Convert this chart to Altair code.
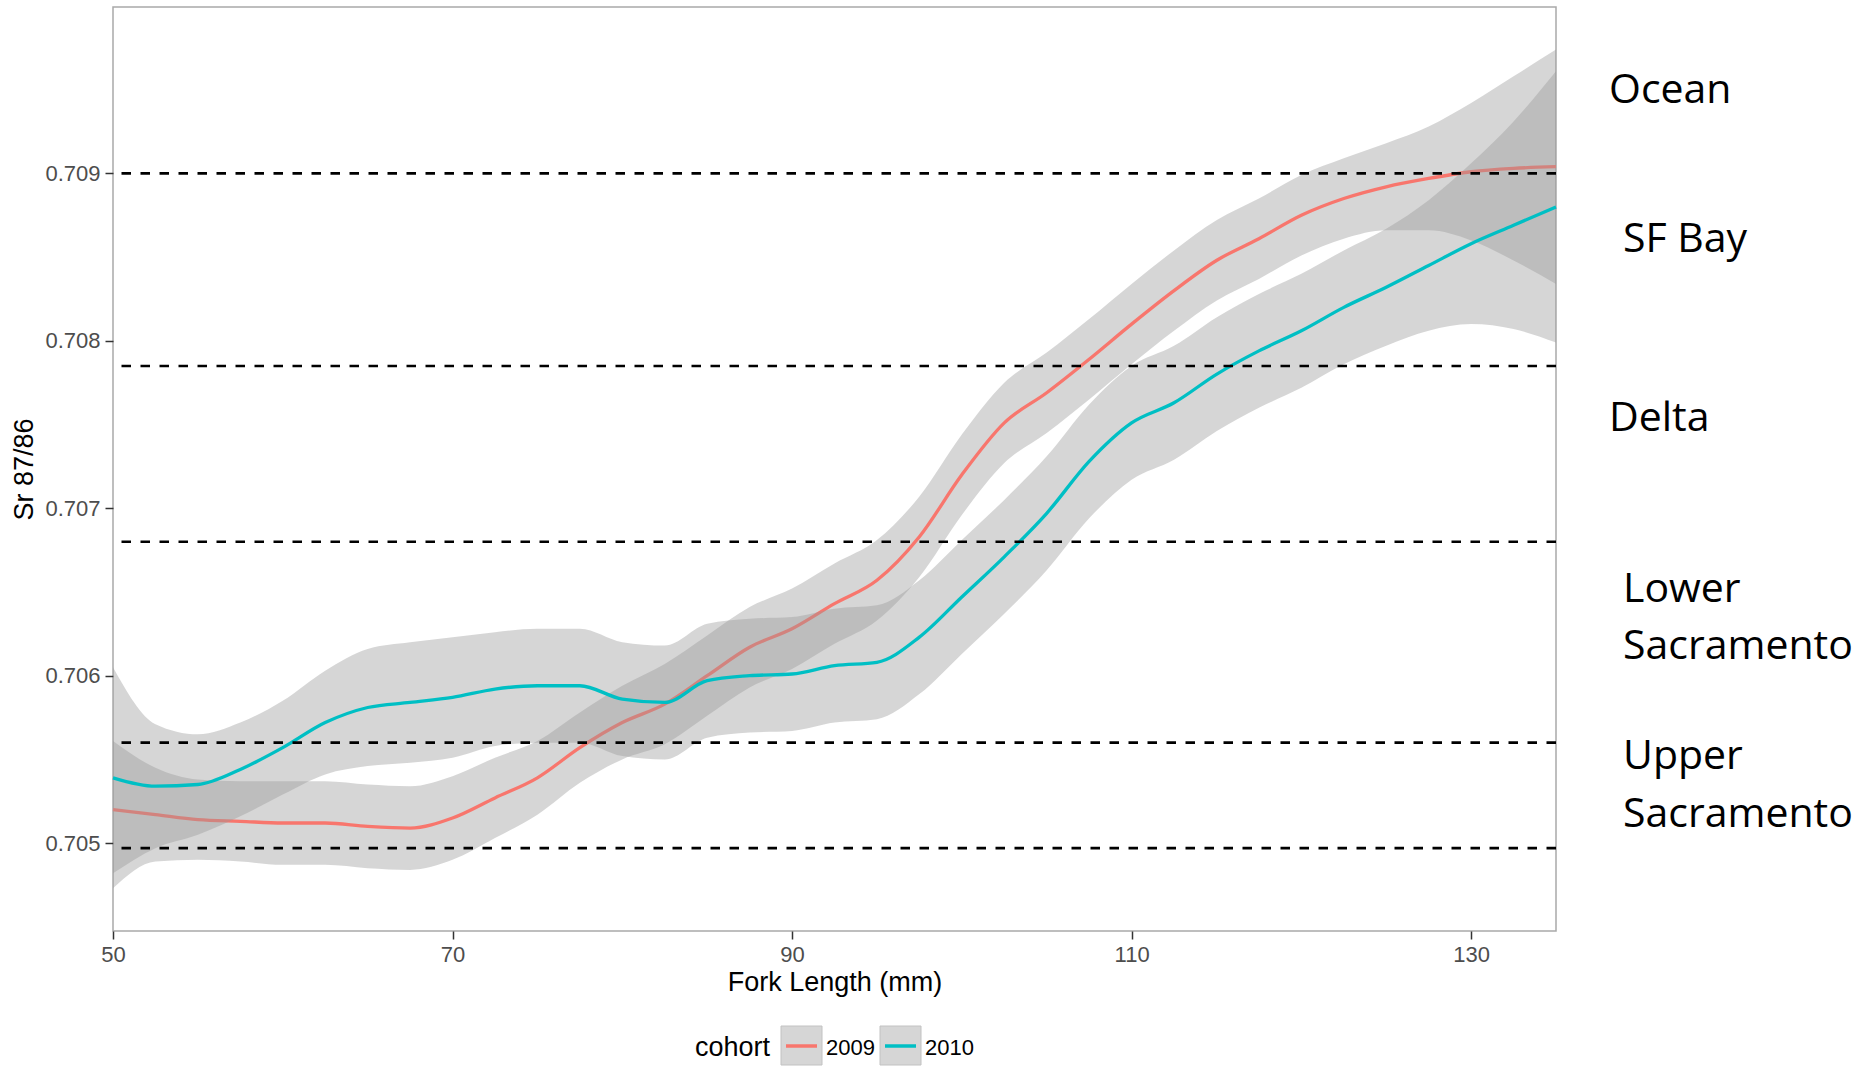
import altair as alt
import pandas as pd

# Smoothed Sr 87/86 against fork length, with confidence bands, per cohort
fork_length = [50, 52.5, 55, 57.5, 60, 62.5, 65, 67.5, 70, 72.5, 75, 77.5, 80, 82.5,
               85, 87.5, 90, 92.5, 95, 97.5, 100, 102.5, 105, 107.5, 110, 112.5, 115,
               117.5, 120, 122.5, 125, 127.5, 130, 132.5, 135]

cohorts = ["2009", "2010"]
cohort_colors = ["#F8766D", "#00BFC4"]

sr_2009 = [0.70520, 0.70517, 0.70514, 0.70513, 0.70512, 0.70512, 0.70510, 0.70509,
           0.70515, 0.70527, 0.70539, 0.70557, 0.70572, 0.70583, 0.70600, 0.70617,
           0.70628, 0.70643, 0.70657, 0.70683, 0.70720, 0.70751, 0.70769, 0.70789,
           0.70810, 0.70830, 0.70848, 0.70861, 0.70875, 0.70885, 0.70892, 0.70897,
           0.70901, 0.70903, 0.70904]
lo_2009 = [0.70473, 0.70489, 0.70490, 0.70489, 0.70487, 0.70487, 0.70485, 0.70484,
           0.70490, 0.70503, 0.70517, 0.70536, 0.70550, 0.70559, 0.70576, 0.70593,
           0.70604, 0.70619, 0.70633, 0.70659, 0.70696, 0.70727, 0.70745, 0.70765,
           0.70786, 0.70806, 0.70824, 0.70837, 0.70851, 0.70861, 0.70866, 0.70866,
           0.70860, 0.70848, 0.70834]
hi_2009 = [0.70561, 0.70545, 0.70538, 0.70537, 0.70537, 0.70537, 0.70535, 0.70534,
           0.70540, 0.70551, 0.70561, 0.70578, 0.70594, 0.70607, 0.70624, 0.70641,
           0.70652, 0.70667, 0.70681, 0.70707, 0.70744, 0.70775, 0.70793, 0.70813,
           0.70834, 0.70854, 0.70872, 0.70885, 0.70899, 0.70909, 0.70918, 0.70928,
           0.70942, 0.70958, 0.70974]

sr_2010 = [0.70539, 0.70534, 0.70535, 0.70544, 0.70557, 0.70572, 0.70581, 0.70584,
           0.70587, 0.70592, 0.70594, 0.70594, 0.70586, 0.70584, 0.70597, 0.70600,
           0.70601, 0.70606, 0.70608, 0.70623, 0.70647, 0.70671, 0.70697, 0.70728,
           0.70751, 0.70763, 0.70780, 0.70794, 0.70806, 0.70820, 0.70832, 0.70845,
           0.70858, 0.70869, 0.70880]
lo_2010 = [0.70482, 0.70497, 0.70505, 0.70516, 0.70529, 0.70541, 0.70546, 0.70548,
           0.70551, 0.70558, 0.70560, 0.70560, 0.70552, 0.70550, 0.70563, 0.70566,
           0.70567, 0.70572, 0.70574, 0.70589, 0.70613, 0.70637, 0.70663, 0.70694,
           0.70717, 0.70729, 0.70746, 0.70760, 0.70772, 0.70786, 0.70797, 0.70806,
           0.70810, 0.70807, 0.70799]
hi_2010 = [0.70605, 0.70571, 0.70565, 0.70572, 0.70585, 0.70603, 0.70616, 0.70620,
           0.70623, 0.70626, 0.70628, 0.70628, 0.70620, 0.70618, 0.70631, 0.70634,
           0.70635, 0.70640, 0.70642, 0.70657, 0.70681, 0.70705, 0.70731, 0.70762,
           0.70785, 0.70797, 0.70814, 0.70828, 0.70840, 0.70854, 0.70867, 0.70884,
           0.70906, 0.70931, 0.70961]

# Habitat boundaries (dashed) and the habitat names beside the panel
zone_bounds = [0.70900, 0.70785, 0.70680, 0.70560, 0.70497]
zone_names = ["Ocean", "SF Bay", "Delta", "Lower\nSacramento", "Upper\nSacramento"]
zone_label_sr = [0.70942, 0.70853, 0.70746, 0.70644, 0.70544]
flush_zones = ["Ocean", "Delta"]

x_ticks = [50, 70, 90, 110, 130]
y_ticks = [0.705, 0.706, 0.707, 0.708, 0.709]

PLOT_W, PLOT_H = 1443, 924
X_DOMAIN = [50, 135]
Y_DOMAIN = [0.704475, 0.709994]

rows = []
for cohort, sr, lo, hi in ((cohorts[0], sr_2009, lo_2009, hi_2009),
                           (cohorts[1], sr_2010, lo_2010, hi_2010)):
    for fl, s, l, h in zip(fork_length, sr, lo, hi):
        rows.append({"cohort": cohort, "fork_length": fl, "sr": s, "lo": l, "hi": h})
smooth = pd.DataFrame(rows)


def x_enc(field="fork_length"):
    return alt.X(f"{field}:Q",
                 scale=alt.Scale(domain=X_DOMAIN, nice=False, zero=False),
                 axis=alt.Axis(values=x_ticks, title="Fork Length (mm)",
                               grid=False, domain=False, labelFlush=False))


def y_enc(field):
    return alt.Y(f"{field}:Q",
                 scale=alt.Scale(domain=Y_DOMAIN, nice=False, zero=False),
                 axis=alt.Axis(values=y_ticks, format=".3f", title="Sr 87/86",
                               grid=False, domain=False, labelFlush=False))


layers = []
base = alt.Chart(smooth)
for cohort, color in zip(cohorts, cohort_colors):
    sub = base.transform_filter(alt.datum.cohort == cohort)
    layers.append(
        sub.mark_area(color="#999999", opacity=0.4, interpolate="monotone")
        .encode(x=x_enc(), y=y_enc("lo"), y2=alt.Y2("hi:Q"))
    )
    layers.append(
        sub.mark_line(color=color, strokeWidth=3.3, interpolate="monotone")
        .encode(x=x_enc(), y=y_enc("sr"))
    )

bounds = alt.Chart(pd.DataFrame({"sr": zone_bounds})).mark_rule(
    color="black", strokeWidth=2.6, strokeDash=[9.5, 9.5]
).encode(y=y_enc("sr"))
layers.append(bounds)

zones = alt.Chart(pd.DataFrame({"zone": zone_names, "sr": zone_label_sr}))
zone_text = dict(align="left", baseline="alphabetic", font="Open Sans",
                 fontSize=41, lineBreak="\n", lineHeight=57.4, color="black")
layers.append(
    zones.transform_filter(alt.FieldOneOfPredicate(field="zone", oneOf=flush_zones))
    .mark_text(**zone_text)
    .encode(x=alt.value(PLOT_W + 53), y=y_enc("sr"), text="zone:N")
)
layers.append(
    zones.transform_filter(~alt.FieldOneOfPredicate(field="zone", oneOf=flush_zones))
    .mark_text(**zone_text)
    .encode(x=alt.value(PLOT_W + 67), y=y_enc("sr"), text="zone:N")
)

# Legend below the panel: grey key boxes with the cohort line inside
legend_font = "Liberation Sans"
layers.append(
    alt.Chart(pd.DataFrame({"t": ["cohort"]}))
    .mark_text(align="left", baseline="alphabetic", font=legend_font, fontSize=27, color="black")
    .encode(x=alt.value(582), y=alt.value(1049), text="t:N")
)
for i, (cohort, color) in enumerate(zip(cohorts, cohort_colors)):
    off = i * 99
    key = alt.Chart(pd.DataFrame({"cohort": [cohort]}))
    layers.append(
        key.mark_rect(fill="#999999", fillOpacity=0.4, stroke="#c2c2c2", strokeWidth=1)
        .encode(x=alt.value(668 + off), x2=alt.value(709 + off),
                y=alt.value(1019), y2=alt.value(1058))
    )
    layers.append(
        key.mark_rule(color=color, strokeWidth=3.5)
        .encode(x=alt.value(673 + off), x2=alt.value(704 + off), y=alt.value(1039))
    )
    layers.append(
        key.mark_text(align="left", baseline="alphabetic", font=legend_font,
                      fontSize=22, color="black")
        .encode(x=alt.value(713 + off), y=alt.value(1048), text="cohort:N")
    )

chart = (
    alt.layer(*layers)
    .properties(
        width=PLOT_W,
        height=PLOT_H,
        autosize=alt.AutoSizeParams(type="none"),
        padding={"left": 113, "top": 7, "right": 306, "bottom": 135},
        background="white",
    )
    .configure_view(stroke="#a9a9a9", strokeWidth=1.5)
    .configure_axis(
        labelFont="Liberation Sans", labelFontSize=22, labelColor="#4d4d4d",
        titleFont="Liberation Sans", titleFontSize=27, titleFontWeight="normal",
        titleColor="black", tickColor="#333333", tickWidth=1.5, tickSize=8,
        labelPadding=5,
    )
    .configure_axisX(titlePadding=4)
    .configure_axisY(titlePadding=6)
)

chart.save("out.html", embed_options={"renderer": "svg", "actions": False})
